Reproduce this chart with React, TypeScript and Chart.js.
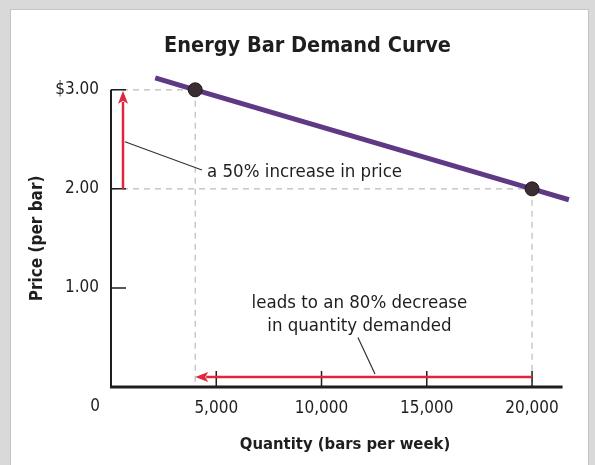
import React, { useEffect, useRef } from 'react';
import { Chart, registerables } from 'chart.js';

Chart.register(...registerables);

// ---- data ----
const demandQty = [2100, 4000, 20000, 21750];
const demandPrice = [3.12, 3.0, 2.0, 1.89];
const markedPoint = [false, true, true, false];

const xTickValues = [0, 5000, 10000, 15000, 20000];
const xTickLabels = ['0', '5,000', '10,000', '15,000', '20,000'];
const yTickValues = [0, 1, 2, 3];
const yTickLabels = ['', '1.00', '2.00', '$3.00'];
const xAxisMax = 22230;
const xAxisEnd = 21450;
const yAxisMax = 3;

const guideQty = [4000, 20000];
const guidePrice = [3.0, 2.0];

const priceArrowX = 570;
const priceArrowY = [2.0, 2.99];
const qtyArrowY = 0.1;
const qtyArrowX = [20000, 4000];

const note1Text = ['a 50% increase in price'];
const note1Pos = [4560, 2.17];
const note1LeaderX = [660, 4320];
const note1LeaderY = [2.475, 2.19];

const note2Text = ['leads to an 80% decrease', 'in quantity demanded'];
const note2X = 11800;
const note2Y = [0.85, 0.615];
const note2LeaderX = [11730, 12540];
const note2LeaderY = [0.5, 0.13];

const titleText = 'Energy Bar Demand Curve';
const xTitle = 'Quantity (bars per week)';
const yTitle = 'Price (per bar)';

const FONT = "'Liberation Sans Narrow', 'DejaVu Sans Condensed', 'Roboto Condensed', Roboto, sans-serif";
const INK = '#1e1e1e';
const RED = '#e0263f';
const PURPLE = '#5f3985';

function drawArrow(ctx: CanvasRenderingContext2D, x1: number, y1: number, x2: number, y2: number) {
  const len = Math.hypot(x2 - x1, y2 - y1);
  const ux = (x2 - x1) / len;
  const uy = (y2 - y1) / len;
  const head = 13;
  const half = 5;
  const bx = x2 - ux * head;
  const by = y2 - uy * head;
  ctx.save();
  ctx.strokeStyle = RED;
  ctx.fillStyle = RED;
  ctx.lineWidth = 2.5;
  ctx.beginPath();
  ctx.moveTo(x1, y1);
  ctx.lineTo(bx + ux * 2, by + uy * 2);
  ctx.stroke();
  ctx.beginPath();
  ctx.moveTo(x2, y2);
  ctx.lineTo(bx - uy * half, by + ux * half);
  ctx.lineTo(bx + ux * 3, by + uy * 3);
  ctx.lineTo(bx + uy * half, by - ux * half);
  ctx.closePath();
  ctx.fill();
  ctx.restore();
}

const decorPlugin = {
  id: 'decor',
  beforeDraw(chart: any) {
    const { ctx, width, height } = chart;
    ctx.save();
    ctx.fillStyle = '#d9d9d9';
    ctx.fillRect(0, 0, width, height);
    ctx.fillStyle = '#ffffff';
    ctx.fillRect(11, 10, width - 18, height - 10);
    ctx.strokeStyle = '#c4c4c4';
    ctx.lineWidth = 1;
    ctx.strokeRect(10.5, 9.5, width - 17, height);
    ctx.restore();
  },
  beforeDatasetsDraw(chart: any) {
    const { ctx } = chart;
    const xs = chart.scales.x;
    const ys = chart.scales.y;
    const x0 = xs.getPixelForValue(0);
    const y0 = ys.getPixelForValue(0);
    ctx.save();
    // dashed guides
    ctx.strokeStyle = '#b9bcc2';
    ctx.lineWidth = 1.2;
    ctx.setLineDash([6, 5]);
    for (let i = 0; i < guideQty.length; i++) {
      const px = xs.getPixelForValue(guideQty[i]);
      const py = ys.getPixelForValue(guidePrice[i]);
      ctx.beginPath();
      ctx.moveTo(x0, py);
      ctx.lineTo(px, py);
      ctx.moveTo(px, py);
      ctx.lineTo(px, y0);
      ctx.stroke();
    }
    ctx.setLineDash([]);
    // axes
    ctx.strokeStyle = INK;
    ctx.lineWidth = 2;
    ctx.beginPath();
    ctx.moveTo(x0, ys.getPixelForValue(yAxisMax));
    ctx.lineTo(x0, y0);
    ctx.stroke();
    ctx.lineWidth = 3;
    ctx.beginPath();
    ctx.moveTo(x0 - 1, y0);
    ctx.lineTo(xs.getPixelForValue(xAxisEnd), y0);
    ctx.stroke();
    // inward ticks
    ctx.lineWidth = 1.5;
    ctx.beginPath();
    yTickValues.forEach((v) => {
      if (v === 0) return;
      const py = ys.getPixelForValue(v);
      ctx.moveTo(x0, py);
      ctx.lineTo(x0 + 15, py);
    });
    xTickValues.forEach((v) => {
      if (v === 0) return;
      const px = xs.getPixelForValue(v);
      ctx.moveTo(px, y0);
      ctx.lineTo(px, y0 - 16);
    });
    ctx.stroke();
    // red arrows
    drawArrow(ctx, xs.getPixelForValue(priceArrowX), ys.getPixelForValue(priceArrowY[0]),
      xs.getPixelForValue(priceArrowX), ys.getPixelForValue(priceArrowY[1]));
    drawArrow(ctx, xs.getPixelForValue(qtyArrowX[0]), ys.getPixelForValue(qtyArrowY),
      xs.getPixelForValue(qtyArrowX[1]), ys.getPixelForValue(qtyArrowY));
    // leader lines
    ctx.strokeStyle = '#333';
    ctx.lineWidth = 1.2;
    ctx.beginPath();
    ctx.moveTo(xs.getPixelForValue(note1LeaderX[0]), ys.getPixelForValue(note1LeaderY[0]));
    ctx.lineTo(xs.getPixelForValue(note1LeaderX[1]), ys.getPixelForValue(note1LeaderY[1]));
    ctx.moveTo(xs.getPixelForValue(note2LeaderX[0]), ys.getPixelForValue(note2LeaderY[0]));
    ctx.lineTo(xs.getPixelForValue(note2LeaderX[1]), ys.getPixelForValue(note2LeaderY[1]));
    ctx.stroke();
    // notes
    ctx.fillStyle = INK;
    ctx.font = `18.5px ${FONT}`;
    ctx.textBaseline = 'middle';
    ctx.textAlign = 'left';
    ctx.fillText(note1Text[0], xs.getPixelForValue(note1Pos[0]), ys.getPixelForValue(note1Pos[1]));
    ctx.textAlign = 'center';
    note2Text.forEach((t, i) => {
      ctx.fillText(t, xs.getPixelForValue(note2X), ys.getPixelForValue(note2Y[i]));
    });
    // origin label
    ctx.font = `17px ${FONT}`;
    ctx.fillText(xTickLabels[0], x0 - 16, y0 + 20);
    ctx.restore();
  },
};

export default function App() {
  const ref = useRef<HTMLCanvasElement>(null);
  useEffect(() => {
    if (!ref.current) return;
    const chart = new Chart(ref.current, {
      type: 'line',
      data: {
        datasets: [
          {
            data: demandQty.map((q, i) => ({ x: q, y: demandPrice[i] })),
            borderColor: PURPLE,
            borderWidth: 5,
            pointRadius: markedPoint.map((m) => (m ? 7 : 0)),
            pointBackgroundColor: '#3a2e33',
            pointBorderColor: '#1c1719',
            pointBorderWidth: 1,
            tension: 0,
            clip: false as any,
          },
        ],
      },
      options: {
        animation: false,
        responsive: false,
        devicePixelRatio: 1,
        events: [],
        layout: { padding: { left: 36, right: 16, top: 0, bottom: 0 } },
        plugins: {
          legend: { display: false },
          tooltip: { enabled: false },
          title: {
            display: true,
            text: titleText,
            color: INK,
            font: { family: FONT, size: 21.5, weight: 'bold' },
            padding: { top: 34, bottom: 30 },
          },
        },
        scales: {
          x: {
            type: 'linear',
            min: 0,
            max: xAxisMax,
            grid: { display: false, drawTicks: false },
            border: { display: false },
            afterBuildTicks: (s: any) => {
              s.ticks = xTickValues.map((v) => ({ value: v }));
            },
            afterFit: (s: any) => {
              s.height = 78;
              s.paddingLeft = 0;
              s.paddingRight = 0;
            },
            ticks: {
              color: INK,
              padding: 11,
              maxRotation: 0,
              autoSkip: false,
              font: { family: FONT, size: 17 },
              callback: (v: any) => {
                const i = xTickValues.indexOf(Number(v));
                return i > 0 ? xTickLabels[i] : '';
              },
            },
            title: {
              display: true,
              text: xTitle,
              color: INK,
              font: { family: FONT, size: 16.5, weight: 'bold' },
              padding: { top: 0, bottom: 10 },
            },
          },
          y: {
            type: 'linear',
            min: 0,
            max: yAxisMax,
            grid: { display: false, drawTicks: false },
            border: { display: false },
            afterBuildTicks: (s: any) => {
              s.ticks = yTickValues.map((v) => ({ value: v }));
            },
            afterFit: (s: any) => {
              s.width = 75;
              s.paddingTop = 0;
              s.paddingBottom = 0;
            },
            ticks: {
              color: INK,
              padding: 12,
              autoSkip: false,
              font: { family: FONT, size: 17 },
              callback: (v: any) => {
                const i = yTickValues.indexOf(Number(v));
                return i >= 0 ? yTickLabels[i] : '';
              },
            },
            title: {
              display: true,
              text: yTitle,
              color: INK,
              font: { family: FONT, size: 17, weight: 'bold' },
              padding: { top: -9, bottom: 0 },
            },
          },
        },
      },
      plugins: [decorPlugin],
    });
    return () => chart.destroy();
  }, []);
  return (
    <div style={{ position: 'absolute', left: 0, top: 0, width: 595, height: 465 }}>
      <canvas ref={ref} width={595} height={465} />
    </div>
  );
}
